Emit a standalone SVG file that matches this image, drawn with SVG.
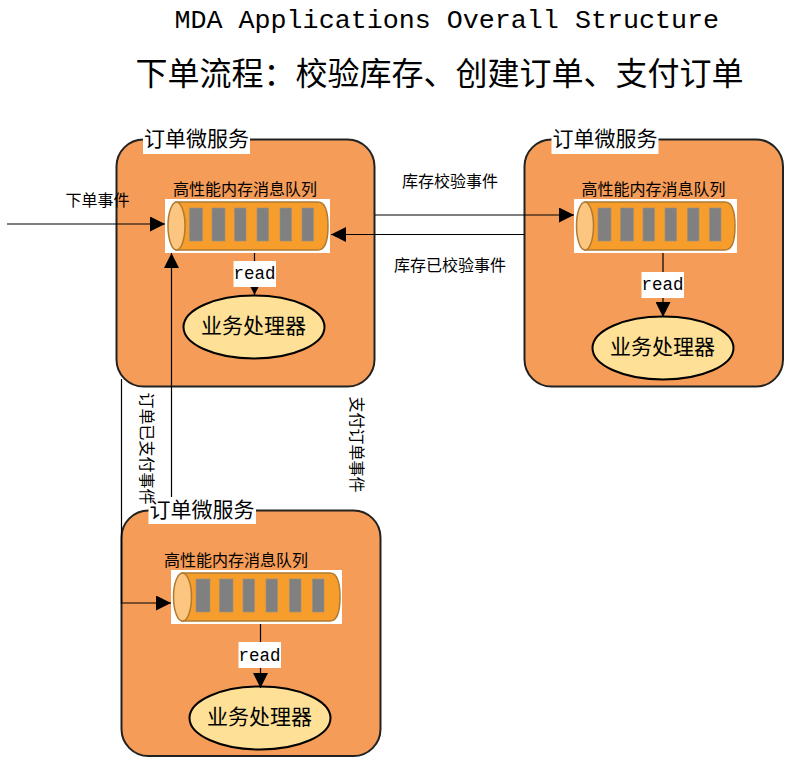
<svg xmlns="http://www.w3.org/2000/svg" width="805" height="761" viewBox="0 0 805 761">
<style>
text{font-family:"Liberation Mono","Noto Sans CJK SC",monospace;fill:#000}
.svc{fill:#f59c58;stroke:#222;stroke-width:2}
.wh{fill:#fff}
.cyl{fill:#f69d2b;stroke:#b07a30;stroke-width:1.5}
.end{fill:#fdc680;stroke:#b07a30;stroke-width:1.5}
.bar{fill:#808080;stroke:#99907f;stroke-width:.6}
.proc{fill:#fee196;stroke:#000;stroke-width:2}
.t21{font-size:21px}
.t16{font-size:16px}
.rd{font-size:17.5px}
.c{fill:none;stroke:#000;stroke-width:1.2}
</style>
<defs>
<marker id="ah" markerUnits="userSpaceOnUse" markerWidth="15" markerHeight="15" refX="15" refY="7.5" orient="auto"><path d="M0 0L15 7.5L0 15Z" fill="#000"/></marker>
</defs>
<g id="titles">
<text x="174.500" y="28" font-size="26.7px">MDA Applications Overall Structure</text>
<text x="135.500" y="85" font-size="32px">下单流程：校验库存、创建订单、支付订单</text>
</g>
<g id="service-a">
<rect class="svc" x="116.500" y="139.500" width="258" height="247" rx="27"/>
<rect class="wh" x="143" y="127" width="107" height="27"/>
<text class="t21" x="144" y="146">订单微服务</text>
<text class="t16" x="173" y="195">高性能内存消息队列</text>
<rect class="wh" x="165" y="199" width="165" height="54"/>
<path class="cyl" d="M176 202H318Q328 202 328 226Q328 250 318 250H176Z"/>
<ellipse class="end" cx="176.500" cy="226" rx="8.500" ry="24"/>
<g class="bar"><rect x="189.500" y="208" width="13" height="33"/><rect x="212" y="208" width="13" height="33"/><rect x="234.500" y="208" width="11.500" height="33"/><rect x="257" y="208" width="11.500" height="33"/><rect x="280" y="208" width="11.500" height="33"/><rect x="302" y="208" width="11.500" height="33"/></g>
<ellipse class="proc" cx="254" cy="327" rx="70.500" ry="31.500"/>
<text class="t21" x="201" y="333">业务处理器</text>
</g>
<g id="service-b">
<rect class="svc" x="524.500" y="139.500" width="258.500" height="247" rx="27"/>
<rect class="wh" x="551.500" y="127" width="107" height="27"/>
<text class="t21" x="552.500" y="146">订单微服务</text>
<text class="t16" x="581.500" y="195">高性能内存消息队列</text>
<rect class="wh" x="574" y="199" width="163" height="54"/>
<path class="cyl" d="M585 202H725Q735 202 735 226Q735 250 725 250H585Z"/>
<ellipse class="end" cx="585" cy="226" rx="8.500" ry="24"/>
<g class="bar"><rect x="598" y="208" width="13" height="33"/><rect x="620.500" y="208" width="13" height="33"/><rect x="643" y="208" width="11.500" height="33"/><rect x="665" y="208" width="11.500" height="33"/><rect x="687.500" y="208" width="11.500" height="33"/><rect x="709.500" y="208" width="11.500" height="33"/></g>
<ellipse class="proc" cx="663" cy="348" rx="70.500" ry="31.500"/>
<text class="t21" x="610" y="354">业务处理器</text>
</g>
<g id="service-c">
<rect class="svc" x="121.500" y="510.500" width="259" height="245.500" rx="27"/>
<rect class="wh" x="148.500" y="497" width="107.500" height="27"/>
<text class="t21" x="149.500" y="517">订单微服务</text>
<text class="t16" x="164" y="566">高性能内存消息队列</text>
<rect class="wh" x="171" y="570" width="171" height="54"/>
<path class="cyl" d="M182 573H330Q340 573 340 597Q340 621 330 621H182Z"/>
<ellipse class="end" cx="182.500" cy="597" rx="9" ry="24"/>
<g class="bar"><rect x="196" y="579" width="14" height="33"/><rect x="219.500" y="579" width="13.500" height="33"/><rect x="243" y="579" width="11.500" height="33"/><rect x="266" y="579" width="11.500" height="33"/><rect x="289.500" y="579" width="11.500" height="33"/><rect x="312.500" y="579" width="11.500" height="33"/></g>
<ellipse class="proc" cx="260" cy="718" rx="70.500" ry="31.500"/>
<text class="t21" x="207" y="724">业务处理器</text>
</g>
<g id="connectors">
<path class="c" d="M7 224H165" marker-end="url(#ah)"/>
<path class="c" d="M375 215H574" marker-end="url(#ah)"/>
<path class="c" d="M524 234.500H331" marker-end="url(#ah)"/>
<path class="c" d="M171.500 497V253" marker-end="url(#ah)"/>
<path class="c" d="M121.500 379V603H171" marker-end="url(#ah)"/>
<path class="c" d="M254.500 253V295" marker-end="url(#ah)"/>
<path class="c" d="M663 253V317" marker-end="url(#ah)"/>
<path class="c" d="M260.500 624V688" marker-end="url(#ah)"/>
<rect class="wh" x="233.500" y="261" width="42.500" height="26"/>
<text class="rd" x="233.500" y="279">read</text>
<rect class="wh" x="641.500" y="272" width="42.500" height="26"/>
<text class="rd" x="641.500" y="290">read</text>
<rect class="wh" x="238.500" y="642" width="42.500" height="26"/>
<text class="rd" x="238.500" y="661">read</text>
<text class="t16" x="65.500" y="206">下单事件</text>
<text class="t16" x="402" y="187">库存校验事件</text>
<text class="t16" x="394" y="271">库存已校验事件</text>
<text class="t16" transform="translate(141 392.500) rotate(90)">订单已支付事件</text>
<text class="t16" transform="translate(351 396.500) rotate(90)">支付订单事件</text>
</g>
</svg>
